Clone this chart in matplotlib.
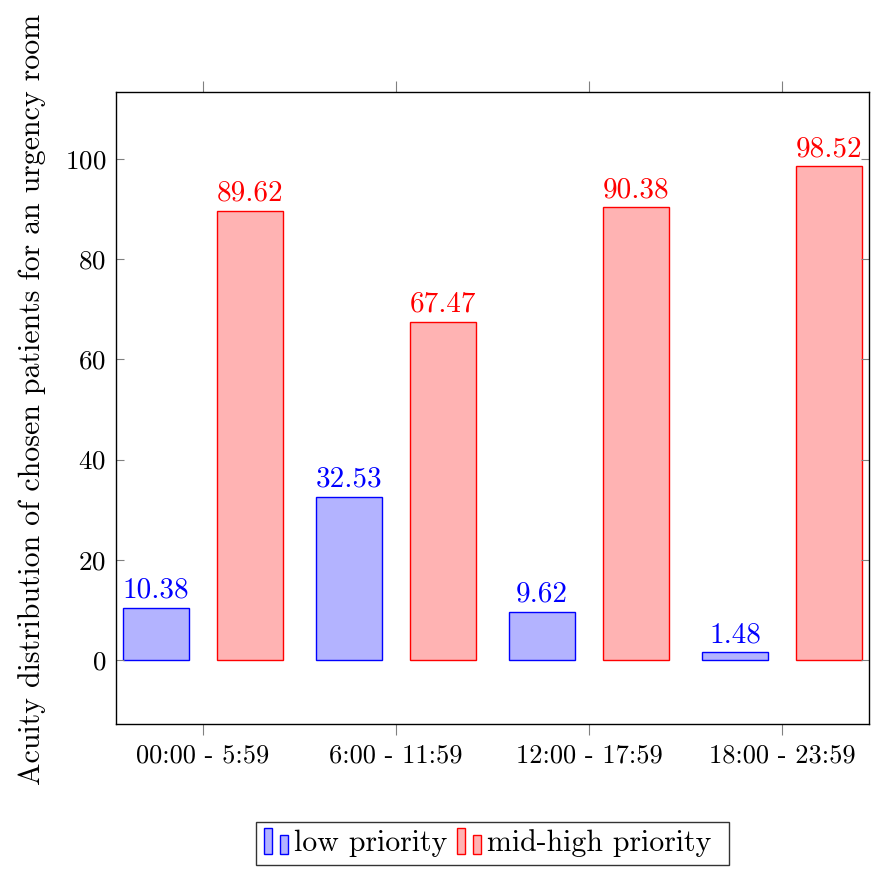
import matplotlib
matplotlib.use('Agg')
import matplotlib.pyplot as plt
import numpy as np
from matplotlib.patches import Rectangle
from matplotlib.legend_handler import HandlerBase

plt.rcParams['font.family'] = 'cmr10'
plt.rcParams['axes.formatter.use_mathtext'] = True
plt.rcParams['mathtext.fontset'] = 'cm'

# Data
categories = ['00:00 - 5:59', '6:00 - 11:59', '12:00 - 17:59', '18:00 - 23:59']
low_priority = [10.38, 32.53, 9.62, 1.48]
mid_high_priority = [89.62, 67.47, 90.38, 98.52]
series_names = ['low priority', 'mid-high priority ']

FS = 21.5


class TwoBarHandler(HandlerBase):
    """pgfplots-like ybar legend image: two small bars"""
    def create_artists(self, legend, orig_handle, xdescent, ydescent,
                       width, height, fontsize, trans):
        fc = orig_handle.get_facecolor()
        ec = orig_handle.get_edgecolor()
        w = width * 0.32
        h = height * 1.24
        y0 = -ydescent - height * 0.12
        r1 = Rectangle((-xdescent, y0), w, h, facecolor=fc, edgecolor=ec,
                       lw=1, transform=trans)
        r2 = Rectangle((-xdescent + width * 0.64, y0), w, h * 0.73,
                       facecolor=fc, edgecolor=ec, lw=1, transform=trans)
        return [r1, r2]


fig = plt.figure(figsize=(8.72, 8.71), dpi=100)
ax = fig.add_axes([0.133, 0.1688, 0.8636, 0.7256])

x = np.arange(len(categories))
offset = 0.243
width = 0.342

b1 = ax.bar(x - offset, low_priority, width, color='#b3b3ff', edgecolor='blue',
            linewidth=1, label=series_names[0])
b2 = ax.bar(x + offset, mid_high_priority, width, color='#ffb3b3', edgecolor='red',
            linewidth=1, label=series_names[1])

for rect, v in zip(b1, low_priority):
    ax.annotate(f'{v:.2f}', (rect.get_x() + rect.get_width() / 2, v),
                xytext=(0, 3), textcoords='offset points', ha='center', va='bottom',
                color='blue', fontsize=21)
for rect, v in zip(b2, mid_high_priority):
    ax.annotate(f'{v:.2f}', (rect.get_x() + rect.get_width() / 2, v),
                xytext=(0, 3), textcoords='offset points', ha='center', va='bottom',
                color='red', fontsize=21)

ax.set_xlim(-0.45, 3.45)
ax.set_ylim(-12.8, 113.4)
ax.set_yticks([0, 20, 40, 60, 80, 100])
ax.set_xticks(x)
ax.set_xticklabels(categories)

ax.tick_params(axis='y', direction='in', left=True, right=True, length=6,
               color='gray', labelsize=19.5, pad=7)
ax.tick_params(axis='x', direction='out', top=True, bottom=True, length=8,
               color='gray', labelsize=19, pad=6)

for s in ax.spines.values():
    s.set_linewidth(1)
    s.set_color('black')

ax.set_ylabel('Acuity distribution of chosen patients for an urgency room', fontsize=FS)
ax.yaxis.set_label_coords(-0.093, 0.513)

leg = ax.legend(handles=[b1.patches[0], b2.patches[0]], labels=series_names,
                handler_map={Rectangle: TwoBarHandler()},
                loc='upper center', bbox_to_anchor=(0.5, -0.155), ncol=2,
                fontsize=FS, frameon=True, fancybox=False, edgecolor='black',
                handlelength=0.83, handletextpad=0.17, columnspacing=0.33,
                borderpad=0.25, borderaxespad=0)
leg.get_frame().set_linewidth(1)

fig.savefig('out.png', dpi=100)
